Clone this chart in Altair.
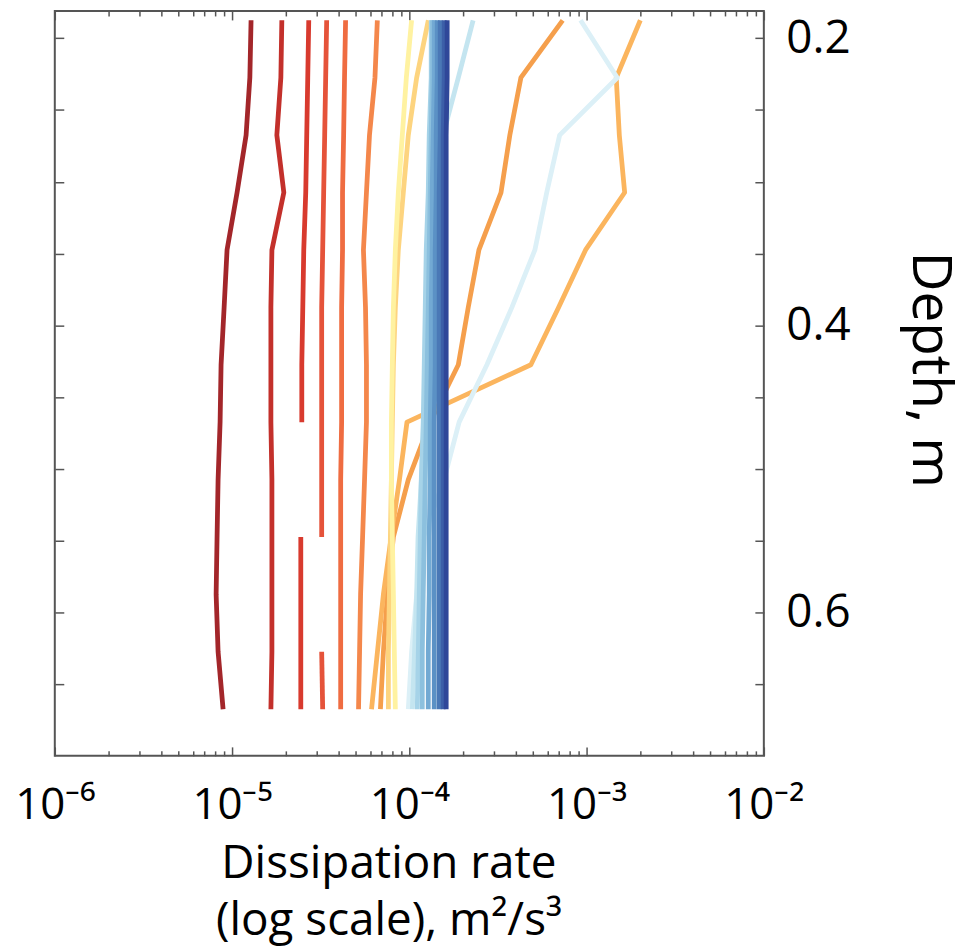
import json
import altair as alt
import pandas as pd

# Depth levels of the profiles (m)
DEPTHS = [0.1875, 0.2275, 0.2675, 0.3075, 0.3475, 0.3875, 0.4275,
          0.4675, 0.5075, 0.5475, 0.5875, 0.6275, 0.6675]

# Dissipation-rate profiles (m^2/s^3); None marks a gap in the profile
P01 = [1.28e-5, 1.26e-5, 1.20e-5, 1.067e-5, 9.37e-6, 9.02e-6, 8.67e-6, 8.56e-6, 8.34e-6, 8.23e-6, 8.13e-6, 8.34e-6, 8.90e-6]
P02 = [1.909e-5, 1.885e-5, 1.789e-5, 1.959e-5, 1.678e-5, 1.656e-5, 1.656e-5, 1.656e-5, 1.678e-5, 1.678e-5, 1.678e-5, 1.678e-5, 1.656e-5]
P03 = [2.708e-5, 2.673e-5, 2.638e-5, 2.604e-5, 2.538e-5, 2.506e-5, 2.474e-5, 2.474e-5, None, 2.442e-5, 2.442e-5, 2.442e-5, 2.442e-5]
P04 = [3.418e-5, 3.374e-5, 3.331e-5, 3.287e-5, 3.245e-5, 3.203e-5, 3.203e-5, 3.203e-5, 3.203e-5, 3.203e-5, None, 3.203e-5, 3.245e-5]
P05 = [4.37e-5, 4.31e-5, 4.26e-5, 4.20e-5, 4.20e-5, 4.15e-5, 4.15e-5, 4.15e-5, 4.10e-5, 4.10e-5, 4.10e-5, 4.10e-5, 4.10e-5]
P06 = [6.60e-5, 6.40e-5, 5.96e-5, 5.73e-5, 5.51e-5, 5.66e-5, 5.73e-5, 5.73e-5, 5.59e-5, 5.45e-5, 5.31e-5, 5.24e-5, 5.17e-5]
P07 = [7.33e-4, 4.26e-4, 3.69e-4, 3.29e-4, 2.47e-4, 2.15e-4, 1.89e-4, 1.31e-4, 9.87e-5, 8.13e-5, 7.52e-5, 7.14e-5, 6.87e-5]
P08 = [2.01e-3, 1.47e-3, 1.53e-3, 1.64e-3, 9.87e-4, 6.96e-4, 4.85e-4, 9.70e-5, 8.80e-5, 7.90e-5, 7.14e-5, 6.61e-5, 6.12e-5]
P09 = [1.28e-4, 1.10e-4, 9.87e-5, 9.25e-5, 8.67e-5, 8.34e-5, 8.13e-5, 8.02e-5, 7.92e-5, 7.82e-5, 7.72e-5, 7.62e-5, 7.62e-5]
P10 = [1.03e-4, 9.62e-5, 9.13e-5, 8.67e-5, 8.34e-5, 8.13e-5, 8.02e-5, 7.92e-5, 7.92e-5, 8.02e-5, 8.13e-5, 8.23e-5, 8.34e-5]
P11 = [9.25e-4, 1.49e-3, 7.05e-4, 5.96e-4, 5.11e-4, 3.79e-4, 2.74e-4, 1.91e-4, 1.57e-4, 1.20e-4, 1.10e-4, 1.03e-4, 9.87e-5]
P12 = [2.29e-4, 1.89e-4, 1.55e-4, 1.46e-4, 1.38e-4, 1.31e-4, 1.26e-4, 1.21e-4, 1.17e-4, 1.12e-4, 1.10e-4, 1.07e-4, 1.04e-4]
P13 = [1.329e-4, 1.329e-4, 1.295e-4, 1.279e-4, 1.246e-4, 1.230e-4, 1.214e-4, 1.198e-4, 1.168e-4, 1.153e-4, 1.138e-4, 1.124e-4, 1.109e-4]
P14 = [1.346e-4, 1.346e-4, 1.329e-4, 1.312e-4, 1.295e-4, 1.279e-4, 1.262e-4, 1.246e-4, 1.230e-4, 1.214e-4, 1.198e-4, 1.183e-4, 1.183e-4]
P15 = [1.382e-4, 1.382e-4, 1.364e-4, 1.346e-4, 1.346e-4, 1.329e-4, 1.329e-4, 1.312e-4, 1.312e-4, 1.295e-4, 1.295e-4, 1.279e-4, 1.279e-4]
P16 = [1.437e-4, 1.437e-4, 1.418e-4, 1.418e-4, 1.400e-4, 1.400e-4, 1.400e-4, 1.382e-4, 1.382e-4, 1.382e-4, 1.382e-4, 1.382e-4, 1.382e-4]
P17 = [1.494e-4, 1.494e-4, 1.494e-4, 1.474e-4, 1.474e-4, 1.474e-4, 1.474e-4, 1.474e-4, 1.474e-4, 1.474e-4, 1.474e-4, 1.474e-4, 1.474e-4]
P18 = [1.573e-4, 1.573e-4, 1.553e-4, 1.553e-4, 1.553e-4, 1.553e-4, 1.553e-4, 1.553e-4, 1.553e-4, 1.553e-4, 1.553e-4, 1.553e-4, 1.553e-4]
P19 = [1.635e-4, 1.635e-4, 1.614e-4, 1.614e-4, 1.614e-4, 1.614e-4, 1.614e-4, 1.614e-4, 1.614e-4, 1.614e-4, 1.614e-4, 1.614e-4, 1.614e-4]

PROFILES = [P01, P02, P03, P04, P05, P06, P07, P08, P09, P10,
            P11, P12, P13, P14, P15, P16, P17, P18, P19]
NAMES = ["p%02d" % (i + 1) for i in range(len(PROFILES))]
COLORS = ["#a3262a", "#c3302b", "#d83a2e", "#e5533a", "#ef6c41", "#f4874b",
          "#f59f4c", "#fbb55e", "#fdd47f", "#fff2a1", "#dcf0f7", "#c4e5f0",
          "#a6d3e8", "#8cc0de", "#72a9d3", "#5b91c5", "#4a78b6", "#3c5fa8", "#2f4799"]

X_TICKS_MAJOR = [1e-6, 1e-5, 1e-4, 1e-3, 1e-2]
X_TICK_LABELS = ["10⁻⁶", "10⁻⁵", "10⁻⁴", "10⁻³", "10⁻²"]
MULTIPLIERS = [2, 3, 4, 5, 6, 7, 8, 9]
X_TICKS_MINOR = [m * d for d in X_TICKS_MAJOR[:-1] for m in MULTIPLIERS]
Y_TICKS = [0.2, 0.25, 0.3, 0.35, 0.4, 0.45, 0.5, 0.55, 0.6, 0.65]
Y_LABELED = [0.2, 0.4, 0.6]

X_DOMAIN = [1e-6, 1e-2]
Y_DOMAIN = [0.181, 0.70]

# long table, one segment per uninterrupted run of values
rows = []
for name, prof in zip(NAMES, PROFILES):
    seg = 0
    for k, (d, v) in enumerate(zip(DEPTHS, prof)):
        if v is None:
            seg += 1
            continue
        rows.append({"line": name, "seg": f"{name}_{seg}", "depth": d, "eps": v, "k": k})
df = pd.DataFrame(rows)

label_expr = ""
for i, (val, lab) in enumerate(zip(X_TICKS_MAJOR, X_TICK_LABELS)):
    if i < len(X_TICKS_MAJOR) - 1:
        label_expr += f"datum.value < {val * 3.0} ? '{lab}' : "
    else:
        label_expr += f"'{lab}'"

y_label_expr = f"indexof({json.dumps(Y_LABELED)}, datum.value) >= 0 ? format(datum.value, '.1f') : ''"

xscale = alt.Scale(type="log", domain=X_DOMAIN, nice=False)
yscale = alt.Scale(domain=Y_DOMAIN, reverse=True, nice=False, zero=False)

TICK_COLOR = "#555555"

lines = alt.Chart(df).mark_line(strokeWidth=4.8, strokeJoin="round").encode(
    x=alt.X("eps:Q", scale=xscale, axis=alt.Axis(
        orient="bottom", values=X_TICKS_MAJOR, labelExpr=label_expr,
        tickSize=9, offset=-9, domain=False, grid=False,
        tickColor=TICK_COLOR, tickWidth=1.5,
        labelFont="Open Sans", labelFontSize=44,
        labelColor="black", labelPadding=28, labelFlush=False, labelOverlap=False,
        title=["Dissipation rate", "(log scale), m²/s³"],
        titleFont="Open Sans", titleFontSize=46, titleFontWeight="normal",
        titleColor="black", titleLineHeight=57, titleAlign="center",
        titleBaseline="alphabetic", titleX=335, titleY=131)),
    y=alt.Y("depth:Q", scale=yscale, axis=alt.Axis(
        orient="right", values=Y_TICKS, labelExpr=y_label_expr,
        tickSize=9, offset=-9, domain=False, grid=False,
        tickColor=TICK_COLOR, tickWidth=1.5,
        labelFont="Open Sans", labelFontSize=46, labelColor="black",
        labelPadding=22, labelAlign="left", labelBaseline="middle", labelOverlap=False,
        title="Depth, m", titleFont="Open Sans", titleFontSize=55,
        titleFontWeight="normal", titleColor="black", titleAngle=90,
        titleAlign="center", titleBaseline="alphabetic", titleX=158, titleY=360)),
    color=alt.Color("line:N", scale=alt.Scale(domain=NAMES, range=COLORS), legend=None),
    detail="seg:N",
    order=alt.Order("k:Q"),
)

ghost_base = alt.Chart(df).mark_point(opacity=0, size=1)

ghost_bottom_minor = ghost_base.encode(
    x=alt.X("eps:Q", scale=xscale, axis=alt.Axis(
        orient="bottom", values=X_TICKS_MINOR, labels=False, tickSize=5, offset=-5,
        domain=False, grid=False, title=None, tickColor=TICK_COLOR, tickWidth=1.5)),
    y=alt.Y("depth:Q", scale=yscale, axis=alt.Axis(
        orient="left", values=Y_TICKS, labels=False, tickSize=9, offset=-9,
        domain=False, grid=False, title=None, tickColor=TICK_COLOR, tickWidth=1.5)),
)
ghost_top_major = ghost_base.encode(
    x=alt.X("eps:Q", scale=xscale, axis=alt.Axis(
        orient="top", values=X_TICKS_MAJOR, labels=False, tickSize=9, offset=-9,
        domain=False, grid=False, title=None, tickColor=TICK_COLOR, tickWidth=1.5)),
    y=alt.Y("depth:Q", scale=yscale, axis=None),
)
ghost_top_minor = ghost_base.encode(
    x=alt.X("eps:Q", scale=xscale, axis=alt.Axis(
        orient="top", values=X_TICKS_MINOR, labels=False, tickSize=5, offset=-5,
        domain=False, grid=False, title=None, tickColor=TICK_COLOR, tickWidth=1.5)),
    y=alt.Y("depth:Q", scale=yscale, axis=None),
)

chart = alt.layer(lines, ghost_bottom_minor, ghost_top_major, ghost_top_minor).resolve_axis(
    x="independent", y="independent"
).properties(
    width=712, height=748,
    autosize=alt.AutoSizeParams(type="none"),
    padding={"left": 47, "top": 1, "right": 200, "bottom": 195},
    background="white",
).configure_view(
    stroke="#555555", strokeWidth=2
)

chart.save("out.html", embed_options={"renderer": "svg", "actions": False})
